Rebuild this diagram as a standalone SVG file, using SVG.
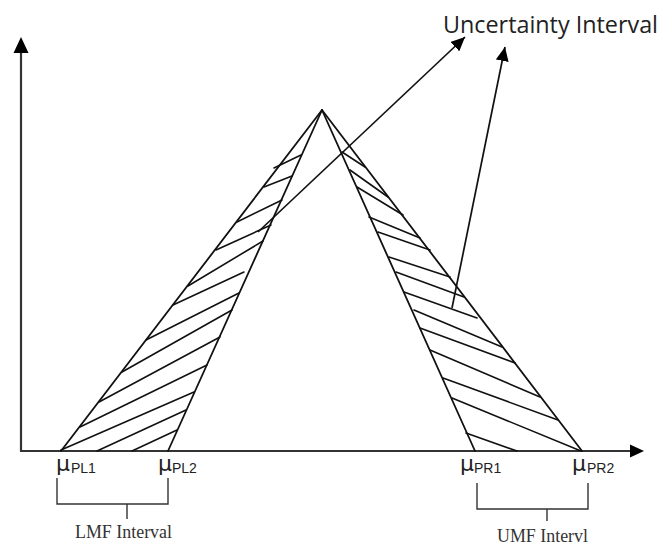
<svg xmlns="http://www.w3.org/2000/svg" width="661" height="546" viewBox="0 0 661 546">
  <style>
    .axis { stroke: #333; stroke-width: 2.2; fill: none; }
    .edge { stroke: #111; stroke-width: 1.8; fill: none; stroke-linecap: round; }
    .hatch { stroke: #111; stroke-width: 1.6; fill: none; stroke-linecap: round; }
    .conn { stroke: #111; stroke-width: 1.7; fill: none; }
    .bracket { stroke: #333; stroke-width: 1.4; fill: none; }
    .mu { font-family: "DejaVu Sans", "Liberation Sans", sans-serif; font-size: 22px; fill: #222; }
    .sub { font-family: "Liberation Sans", "DejaVu Sans", sans-serif; font-size: 14px; fill: #222; }
    .serif { font-family: "Liberation Serif", "DejaVu Serif", serif; font-size: 18px; fill: #333; }
    .title { font-family: "Open Sans", "Liberation Sans", sans-serif; font-size: 23px; fill: #222; }
  </style>
  <defs>
    <marker id="head" markerUnits="userSpaceOnUse" markerWidth="15" markerHeight="13" refX="14" refY="6.5" orient="auto">
      <path d="M0,0 L14,6.5 L0,13 z" fill="#000"/>
    </marker>
  </defs>

  <g id="axes">
    <line class="axis" x1="21" y1="451" x2="21" y2="50"/>
    <path d="M21,37 L28.5,53 L13.5,53 z" fill="#000"/>
    <line class="axis" x1="20" y1="451" x2="632" y2="451"/>
    <path d="M644,451 L630,444.5 L630,457.5 z" fill="#000"/>
  </g>

  <g id="membership">
    <line class="edge" x1="322" y1="110" x2="61" y2="451"/>
    <line class="edge" x1="322" y1="110" x2="168" y2="451"/>
    <line class="edge" x1="322" y1="110" x2="475" y2="451"/>
    <line class="edge" x1="322" y1="110" x2="582" y2="451"/>
  </g>

  <g id="left-band">
    <path class="hatch" d="M274,168 L301,155 M264,187 L292,176 M237,222 L282,200 M216,250 L271,225 M188,286 L263,241 M173,305 L244,272 M146,340 L239,293 M122,372 L232,310 M99,402 L220,337 M80,427 L207,365 M61,450 L194,392 M97,451 L186,410 M132,451 L177,430"/>
  </g>

  <g id="right-band">
    <path class="hatch" d="M342,152 L365,167 M350,170 L388,197 M357,187 L403,215 M369,217 L420,238 M378,232 L430,250 M389,257 L450,277 M396,272 L464,297 M404,292 L477,318 M414,310 L502,347 M420,328 L515,363 M430,350 L540,397 M443,378 L558,420 M452,398 L581,451 M466,433 L517,451"/>
  </g>

  <g id="connectors">
    <line class="conn" x1="258" y1="232" x2="465" y2="37" marker-end="url(#head)"/>
    <line class="conn" x1="452" y1="308" x2="505" y2="47" marker-end="url(#head)"/>
  </g>

  <g id="title">
    <text class="title" x="443" y="33" textLength="215" lengthAdjust="spacingAndGlyphs">Uncertainty Interval</text>
  </g>

  <g id="mu-pl1"><text x="56" y="471"><tspan class="mu">μ</tspan><tspan class="sub" x="71" y="473">PL1</tspan></text></g>
  <g id="mu-pl2"><text x="158" y="471"><tspan class="mu">μ</tspan><tspan class="sub" x="172" y="473">PL2</tspan></text></g>
  <g id="mu-pr1"><text x="460" y="471"><tspan class="mu">μ</tspan><tspan class="sub" x="474" y="473">PR1</tspan></text></g>
  <g id="mu-pr2"><text x="572" y="471"><tspan class="mu">μ</tspan><tspan class="sub" x="587" y="473">PR2</tspan></text></g>

  <g id="lmf-interval">
    <path class="bracket" d="M57,478 L57,504 L168,504 L168,478 M127,504 L127,519"/>
    <text class="serif" x="75" y="538" textLength="97" lengthAdjust="spacingAndGlyphs">LMF Interval</text>
  </g>

  <g id="umf-interval">
    <path class="bracket" d="M477,483 L477,509 L588,509 L588,483 M547,509 L547,521"/>
    <text class="serif" x="497" y="542" textLength="91" lengthAdjust="spacingAndGlyphs">UMF Intervl</text>
  </g>
</svg>
